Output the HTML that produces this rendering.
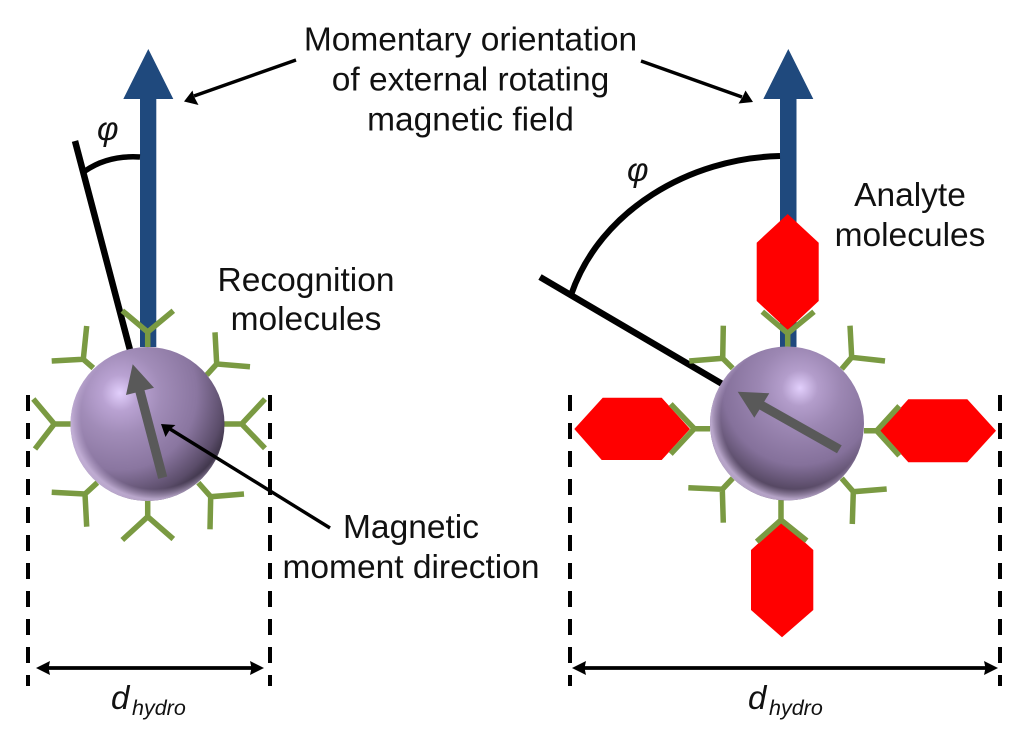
<!DOCTYPE html>
<html><head><meta charset="utf-8">
<style>
html,body{margin:0;padding:0;background:#fff;width:1024px;height:740px;overflow:hidden}
svg{display:block;filter:blur(.35px)}
text{font-family:"Liberation Sans",sans-serif;fill:#111;font-size:33.5px}
.g{stroke:#7a9a42;stroke-width:5.5;fill:none}
.k{stroke:#000;fill:none}
</style></head><body>
<svg width="1024" height="740" viewBox="0 0 1024 740" xmlns="http://www.w3.org/2000/svg">
<defs>
<radialGradient id="a" gradientUnits="userSpaceOnUse" cx="120" cy="393" r="128" fx="120" fy="393">
<stop offset="0" stop-color="#e2cffc"/><stop offset=".14" stop-color="#b9a2d2"/><stop offset=".32" stop-color="#a18cb8"/><stop offset=".6" stop-color="#8a76a0"/><stop offset=".82" stop-color="#5a4c69"/><stop offset="1" stop-color="#1a1620"/>
</radialGradient>
<radialGradient id="b" gradientUnits="userSpaceOnUse" cx="800" cy="388" r="128" fx="800" fy="388">
<stop offset="0" stop-color="#e2cffc"/><stop offset=".14" stop-color="#b39dcb"/><stop offset=".32" stop-color="#9c87b3"/><stop offset=".6" stop-color="#85719b"/><stop offset=".82" stop-color="#50435c"/><stop offset="1" stop-color="#1a1620"/>
</radialGradient>
<radialGradient id="r1" gradientUnits="userSpaceOnUse" cx="154" cy="416" r="83">
<stop offset=".88" stop-color="#c4b0d8" stop-opacity="0"/><stop offset="1" stop-color="#c9b6dc" stop-opacity=".85"/>
</radialGradient>
<radialGradient id="r2" gradientUnits="userSpaceOnUse" cx="794" cy="416" r="83">
<stop offset=".88" stop-color="#c4b0d8" stop-opacity="0"/><stop offset="1" stop-color="#c9b6dc" stop-opacity=".85"/>
</radialGradient>
</defs>

<!-- blue arrows -->
<path d="M148.3 49L173.3 99H156.3V347H140V99H123.3Z" fill="#1f497d"/>
<path d="M788.3 49L813.3 99H796.5V347H780V99H763.3Z" fill="#1f497d"/>

<!-- black angle lines -->
<path class="k" stroke-width="6.5" d="M75 141L130 350"/>
<path class="k" stroke-width="5.5" d="M85 171Q108 155 140 157"/>
<path class="k" stroke-width="6.5" d="M540 277L724 385"/>
<path class="k" stroke-width="6" d="M571 295C600 210 690 158 780 156"/>

<!-- red analytes -->
<g fill="#ff0000">
<path d="M787.7 214L818.7 242.7V301L787.7 330L756.7 301V242.7Z"/>
<path d="M574.3 429L602.7 397.7H661.7L690 429L661.7 460H601.7Z"/>
<path d="M880 430.7L908.3 399.3H967.3L996 430.7L967.3 462.3H908.3Z"/>
<path d="M782 521.7L813.3 550V610L782 637.3L751 610V550Z"/>
</g>

<!-- left antibodies -->
<g class="g">
<path d="M147.7 347V332M122.3 310.7L147.7 332L173.3 310.7"/>
<path d="M93.3 368L83.3 359.3M51.7 361L83.3 359.3L86.7 326"/>
<path d="M206.7 375L216.7 364M250 366.7L216.7 364L215 332.3"/>
<path d="M224 424H241.7M265 399L241.7 424L265 448.3"/>
<path d="M70.7 424H54.3M33.3 399L54.3 424L35 449"/>
<path d="M97.3 482.7L85 494M51.7 492.3L85 494L86.7 526.7"/>
<path d="M198.3 482.7L210.7 496.7M244 494L210.7 496.7L210 529.3"/>
<path d="M147.7 500.7V516.7M122.3 540L147.7 516.7L173.3 539"/>
</g>
<!-- right antibodies -->
<g class="g">
<path d="M787.7 347V333.3M762.3 311.7L787.7 333.3L814 311.7"/>
<path d="M732.7 368.3L722.7 358.3M689.3 361L722.7 358.3L723.3 325.7"/>
<path d="M841.7 369L851.7 357.3M885 361L851.7 357.3L850 325.7"/>
<path d="M864 430.7H876.7M899.3 406L876.7 430.7L899.3 455.7"/>
<path d="M710 428.7H694.3M670.7 404L694.3 428.7L670.7 454"/>
<path d="M732.7 478.3L722.3 489.3M688.3 487.7L722.3 489.3L723.3 522.7"/>
<path d="M841.7 478.3L853.3 491.7M886.7 489L853.3 491.7L852.3 524"/>
<path d="M781 500V520M756.7 541.7L781 520L806.7 540.7"/>
</g>

<!-- spheres -->
<circle cx="147.5" cy="424" r="77" fill="url(#a)"/>
<circle cx="147.5" cy="424" r="77" fill="url(#r1)"/>
<circle cx="787" cy="423.5" r="77" fill="url(#b)"/>
<circle cx="787" cy="423.5" r="77" fill="url(#r2)"/>

<!-- gray arrows -->
<g fill="#595959" stroke="none">
<path d="M132.7 364.3L154 387.7L144.5 390.2L167.2 476.5L158.2 478.9L135.5 392.6L126 395Z"/>
<path d="M737.7 391.7L769.3 393.3L764.2 401.6L841.7 445.4L837 453.2L759.5 409.5L754.3 417.7Z"/>
</g>

<!-- thin arrows -->
<g class="k" stroke-width="3.4">
<path d="M296 60L194 96"/>
<path d="M641 61L742 97"/>
<path d="M330 528L170 429"/>
<path d="M46 668H254" stroke-width="3.8"/>
<path d="M584 668H986" stroke-width="3.8"/>
</g>
<g fill="#000" stroke="none">
<path d="M184 101.500L192.500 90.500L194 96.500L198.500 105Z"/>
<path d="M753 102L745.500 90.500L742.500 97L738.500 103.500Z"/>
<path d="M161 424L175.500 425L170 429.500L165.500 437Z"/>
<path d="M36 668L50 661L48.500 668L50 675Z"/>
<path d="M264 668L250 661L251.500 668L250 675Z"/>
<path d="M572 668L586 661L584.500 668L586 675Z"/>
<path d="M998 668L984 661L985.500 668L984 675Z"/>
</g>

<!-- dashed lines -->
<g stroke="#000" stroke-width="4" fill="none" stroke-dasharray="16 12">
<path d="M28 395V686"/>
<path d="M270 395V686"/>
<path d="M570 395V686"/>
<path d="M1000 395V686"/>
</g>

<!-- text -->
<text x="470.5" y="50.5" text-anchor="middle">Momentary orientation</text>
<text x="470.5" y="90.5" text-anchor="middle">of external rotating</text>
<text x="470.5" y="130.5" text-anchor="middle">magnetic field</text>
<text x="306" y="291" text-anchor="middle">Recognition</text>
<text x="306" y="330" text-anchor="middle">molecules</text>
<text x="910" y="206" text-anchor="middle">Analyte</text>
<text x="910" y="246" text-anchor="middle">molecules</text>
<text x="411" y="538" text-anchor="middle">Magnetic</text>
<text x="411" y="578" text-anchor="middle">moment direction</text>
<text x="97" y="140" font-style="italic" style="font-size:33px">φ</text>
<text x="627" y="181" font-style="italic" style="font-size:33px">φ</text>
<text x="111" y="709" font-style="italic" style="font-size:33px">d</text>
<text x="132" y="715" font-style="italic" style="font-size:21.5px">hydro</text>
<text x="748" y="709" font-style="italic" style="font-size:33px">d</text>
<text x="769" y="715" font-style="italic" style="font-size:21.5px">hydro</text>
</svg>
</body></html>
